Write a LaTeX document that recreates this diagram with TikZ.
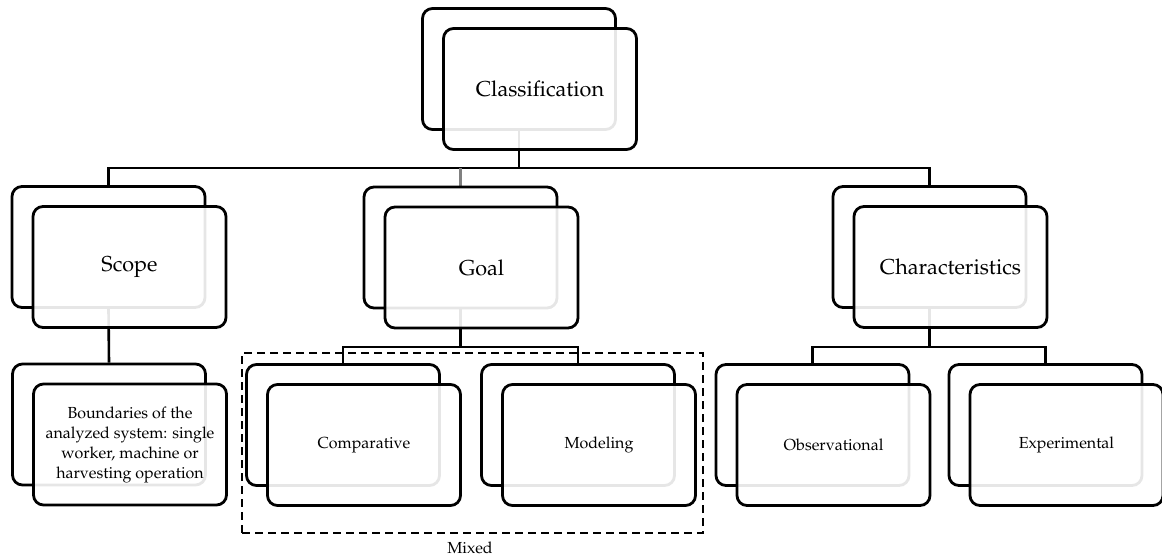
\documentclass[tikz,border=0pt]{standalone}
\usepackage[T1]{fontenc}
\usepackage{mathpazo}
\usetikzlibrary{positioning,backgrounds}

\begin{document}
\begin{tikzpicture}[
    x=0.5pt, y=-0.5pt,
    backbox/.style={draw, line width=1.4pt, rounded corners=5pt, fill=white,
        minimum width=96.5pt, minimum height=60.5pt, inner sep=0pt},
    frontbox/.style={backbox, fill opacity=0.9, text opacity=1, align=center},
    lvlone/.style={font=\fontsize{10.8}{13}\selectfont},
    lvltwo/.style={font=\fontsize{8}{10}\selectfont},
    conn/.style={line width=1.3pt},
    mixbox/.style={draw, line width=1.3pt, dash pattern=on 4pt off 2.5pt,
        minimum width=230.5pt, minimum height=90pt, inner sep=0pt},
]
    \useasboundingbox (0,0) rectangle (1162,558);

    % back boxes
    \node[backbox] (clsB) at (519,69) {};
    \node[backbox] (scopeB) at (108.5,247) {};
    \node[backbox] (goalB) at (460.5,247.5) {};
    \node[backbox] (charB) at (929.5,247) {};
    \node[backbox] (boundB) at (109,424.5) {};
    \node[backbox] (compB) at (343,425) {};
    \node[backbox] (modelB) at (578,425) {};
    \node[backbox] (obsB) at (812.5,425) {};
    \node[backbox] (expB) at (1045.5,425) {};

    % front boxes
    \node[frontbox,lvlone] (clsF) at ([shift={(21,20)}]clsB) {Classification};
    \node[frontbox,lvlone] (scopeF) at ([shift={(21,20)}]scopeB) {Scope};
    \node[frontbox,lvlone] (goalF) at ([shift={(21,20)}]goalB) {Goal};
    \node[frontbox,lvlone] (charF) at ([shift={(21,20)}]charB) {Characteristics};
    \node[frontbox,lvltwo] (boundF) at ([shift={(21,20)}]boundB)
        {Boundaries of the\\analyzed system: single\\worker, machine or\\harvesting operation};
    \node[frontbox,lvltwo] (compF) at ([shift={(21,20)}]compB) {Comparative};
    \node[frontbox,lvltwo] (modelF) at ([shift={(21,20)}]modelB) {Modeling};
    \node[frontbox,lvltwo] (obsF) at ([shift={(21,20)}]obsB) {Observational};
    \node[frontbox,lvltwo] (expF) at ([shift={(21,20)}]expB) {Experimental};

    \node[mixbox] (mix) at (472.5,443) {};
    \node[lvltwo] (mixlbl) at (470,548) {Mixed};

    \begin{pgfonlayer}{background}
        \coordinate (barA) at (519,168);
        \coordinate (barB) at (460.5,347);
        \coordinate (barC) at (929.5,347);
        \draw[conn] (clsB.south) -- (barA);
        \draw[conn] (scopeB.north) |- (barA) -| (charB.north);
        \draw[conn,gray] (goalB.north) -- (goalB.north |- barA);
        \draw[conn] (scopeB.south) -- (boundB.north);
        \draw[conn] (goalB.south) -- (barB);
        \draw[conn] (compB.north) |- (barB) -| (modelB.north);
        \draw[conn] (charB.south) -- (barC);
        \draw[conn] (obsB.north) |- (barC) -| (expB.north);
    \end{pgfonlayer}
\end{tikzpicture}
\end{document}
